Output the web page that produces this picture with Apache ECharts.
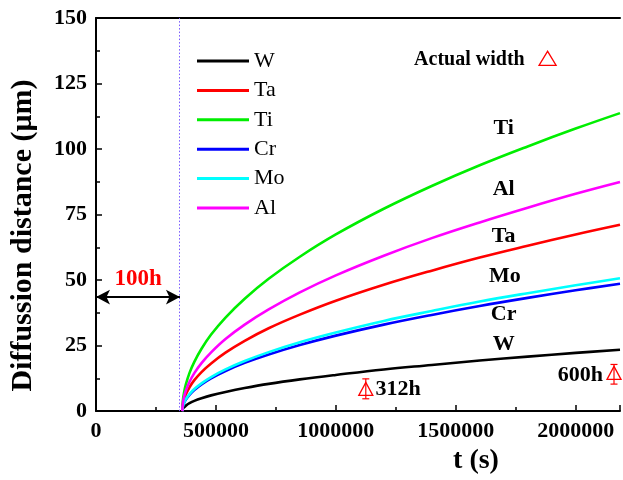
<!DOCTYPE html>
<html>
<head>
<meta charset="utf-8">
<script src="https://cdn.jsdelivr.net/npm/echarts@6/dist/echarts.min.js"></script>
<style>html,body{margin:0;padding:0;background:#fff}#c{width:623px;height:480px}</style>
</head>
<body>
<div id="c"></div>
<script>
// ---- data ----
const times = [360000, 362000, 367000, 375000, 390000, 410000, 440000, 480000, 540000, 620000, 720000, 850000, 1000000, 1200000, 1400000, 1600000, 1800000, 2000000, 2185000];
const W  = [0, 0.8, 1.4, 2.1, 3.0, 3.9, 4.9, 6.0, 7.3, 8.8, 10.4, 12.1, 13.8, 15.9, 17.6, 19.3, 20.8, 22.2, 23.4];
const Ta = [0, 2.4, 4.4, 6.4, 9.1, 11.8, 14.9, 18.2, 22.3, 26.8, 31.6, 36.8, 42.1, 48.2, 53.6, 58.6, 63.1, 67.4, 71.1];
const Ti = [0, 3.8, 7.0, 10.3, 14.6, 18.8, 23.8, 29.2, 35.7, 42.9, 50.5, 58.9, 67.4, 77.2, 85.9, 93.8, 101.0, 107.8, 113.7];
const Cr = [0, 1.6, 3.0, 4.4, 6.2, 8.0, 10.2, 12.5, 15.3, 18.4, 21.6, 25.2, 28.8, 33.0, 36.7, 40.1, 43.2, 46.1, 48.6];
const Mo = [0, 1.7, 3.1, 4.6, 6.5, 8.4, 10.6, 13.0, 15.9, 19.1, 22.5, 26.3, 30.0, 34.4, 38.2, 41.8, 45.0, 48.0, 50.7];
const Al = [0, 2.9, 5.4, 7.9, 11.2, 14.5, 18.3, 22.4, 27.5, 33.0, 38.8, 45.3, 51.8, 59.3, 66.0, 72.0, 77.6, 82.9, 87.4];

const seriesNames = ['W', 'Ta', 'Ti', 'Cr', 'Mo', 'Al'];
const seriesValues = [W, Ta, Ti, Cr, Mo, Al];
const seriesColors = ['#000000', '#ff0000', '#00ee00', '#0000ff', '#00ffff', '#ff00ff'];

// actual width measurements: [t (s), value, low, high]
const actualWidth = [[1125000, 8.5, 4.7, 12.3], [2160000, 14.6, 10.3, 17.8]];
const actualLabels = [[1260000, 8.5, '312h'], [2020000, 13.6, '600h']];
// curve labels [t, value, text]
const curveLabels = [[1700000, 108.0, 'Ti'], [1700000, 84.6, 'Al'], [1700000, 66.7, 'Ta'], [1705000, 51.4, 'Mo'], [1700000, 37.0, 'Cr'], [1700000, 25.6, 'W']];
const legendKey = [[1557000, 134.2, 'Actual width']];
const legendKeyMarker = [[1883000, 134.6]];
const preAgeEnd = 347000;      // dotted line (100 h)
const arrowY = 43.5;
const arrowLabel = [[176000, 50.2, '100h']];

const xTicks = [0, 500000, 1000000, 1500000, 2000000];
const xMin = 0, xMax = 2185000, yMin = 0, yMax = 150;

const FONT = "'Liberation Serif','Times New Roman',serif";

const chart = echarts.init(document.getElementById('c'), null, {renderer: 'canvas'});

const lineSeries = seriesNames.map((n, i) => ({
  name: n, type: 'line', smooth: 0.4, symbol: 'none',
  data: times.map((t, k) => [t, seriesValues[i][k]]),
  lineStyle: {color: seriesColors[i], width: 2.6},
  itemStyle: {color: seriesColors[i]},
  z: 3
}));

const textScatter = (data, color, size) => ({
  type: 'scatter', symbol: 'circle', symbolSize: 1, silent: true, z: 5,
  itemStyle: {color: 'rgba(0,0,0,0)', opacity: 1},
  data: data.map(d => ({value: [d[0], d[1]], label: {formatter: d[2]}})),
  label: {show: true, position: 'inside', color: color, opacity: 1, fontFamily: FONT, fontWeight: 'bold', fontSize: size}
});

const option = {
  animation: false,
  backgroundColor: '#fff',
  grid: {left: 94, top: 18, right: 0, bottom: 68, containLabel: false},
  legend: {
    orient: 'vertical', left: 192, top: 45, itemGap: 7.4,
    itemWidth: 52, itemHeight: 3, icon: 'rect',
    data: seriesNames,
    textStyle: {fontFamily: FONT, fontSize: 22, color: '#000', lineHeight: 22}
  },
  xAxis: [{
    type: 'value', min: xMin, max: xMax, interval: 500000,
    name: 't (s)', nameLocation: 'middle', nameGap: 34,
    nameTextStyle: {fontFamily: FONT, fontWeight: 'bold', fontSize: 28, color: '#000', padding: [0, 0, 0, 236]},
    axisLine: {show: true, onZero: false, lineStyle: {color: '#000', width: 2}},
    axisTick: {show: true, inside: true, length: 6, lineStyle: {color: '#000', width: 1.5}},
    minorTick: {show: true, splitNumber: 2, length: 4, lineStyle: {color: '#000', width: 1.5}},
    splitLine: {show: false},
    axisLabel: {
      margin: 9, color: '#000', fontFamily: FONT, fontWeight: 'bold', fontSize: 22,
      formatter: v => (xTicks.indexOf(v) >= 0 ? String(v) : '')
    }
  }, {
    type: 'value', position: 'top', min: xMin, max: xMax,
    axisLine: {show: true, onZero: false, lineStyle: {color: '#000', width: 2}},
    axisTick: {show: false}, axisLabel: {show: false}, splitLine: {show: false}
  }],
  yAxis: {
    type: 'value', min: yMin, max: yMax, interval: 25,
    name: 'Diffussion distance (μm)', nameLocation: 'middle', nameGap: 58,
    nameTextStyle: {fontFamily: FONT, fontWeight: 'bold', fontSize: 30, color: '#000', padding: [0, 42, 0, 0]},
    axisLine: {show: true, lineStyle: {color: '#000', width: 2}},
    axisTick: {show: true, inside: true, length: 6, lineStyle: {color: '#000', width: 1.5}},
    minorTick: {show: true, splitNumber: 2, length: 4, lineStyle: {color: '#000', width: 1.5}},
    splitLine: {show: false},
    axisLabel: {margin: 9, color: '#000', fontFamily: FONT, fontWeight: 'bold', fontSize: 22}
  },
  series: [
    ...lineSeries,
    {
      type: 'line', data: [], silent: true,
      markLine: {
        silent: true, symbol: 'none', label: {show: false},
        lineStyle: {color: '#7a5cff', type: [1.5, 2], width: 1},
        data: [{xAxis: preAgeEnd}]
      }
    },
    {
      type: 'line', data: [], silent: true,
      markLine: {
        silent: true, symbol: ['arrow', 'arrow'], symbolSize: [11, 14], label: {show: false},
        lineStyle: {color: '#000', type: 'solid', width: 2},
        data: [[{coord: [xMin, arrowY]}, {coord: [preAgeEnd + 3000, arrowY]}]]
      }
    },
    textScatter(arrowLabel, '#ff0000', 23),
    textScatter(curveLabels, '#000', 22),
    textScatter(actualLabels, '#000', 22),
    textScatter(legendKey, '#000', 20),
    {
      type: 'scatter', symbol: 'triangle', symbolSize: [17, 14], silent: true, z: 6,
      data: legendKeyMarker,
      itemStyle: {color: 'rgba(255,255,255,0)', borderColor: '#ff0000', borderWidth: 1.3, opacity: 1}
    },
    {
      type: 'custom', silent: true, z: 6,
      data: actualWidth,
      renderItem: (params, api) => {
        const c = api.coord([api.value(0), api.value(1)]);
        const lo = api.coord([api.value(0), api.value(2)]);
        const hi = api.coord([api.value(0), api.value(3)]);
        const st = {stroke: '#ff0000', lineWidth: 1.2, fill: null};
        const w = 7, h = 13;
        return {
          type: 'group', children: [
            {type: 'line', shape: {x1: lo[0], y1: lo[1], x2: hi[0], y2: hi[1]}, style: st},
            {type: 'line', shape: {x1: hi[0] - 3.5, y1: hi[1], x2: hi[0] + 3.5, y2: hi[1]}, style: st},
            {type: 'line', shape: {x1: lo[0] - 3.5, y1: lo[1], x2: lo[0] + 3.5, y2: lo[1]}, style: st},
            {type: 'polygon', shape: {points: [[c[0], c[1] - h / 2], [c[0] + w, c[1] + h / 2], [c[0] - w, c[1] + h / 2]]},
             style: {stroke: '#ff0000', lineWidth: 1.3, fill: 'rgba(255,255,255,0)'}}
          ]
        };
      }
    }
  ]
};
chart.setOption(option);
</script>
</body>
</html>
